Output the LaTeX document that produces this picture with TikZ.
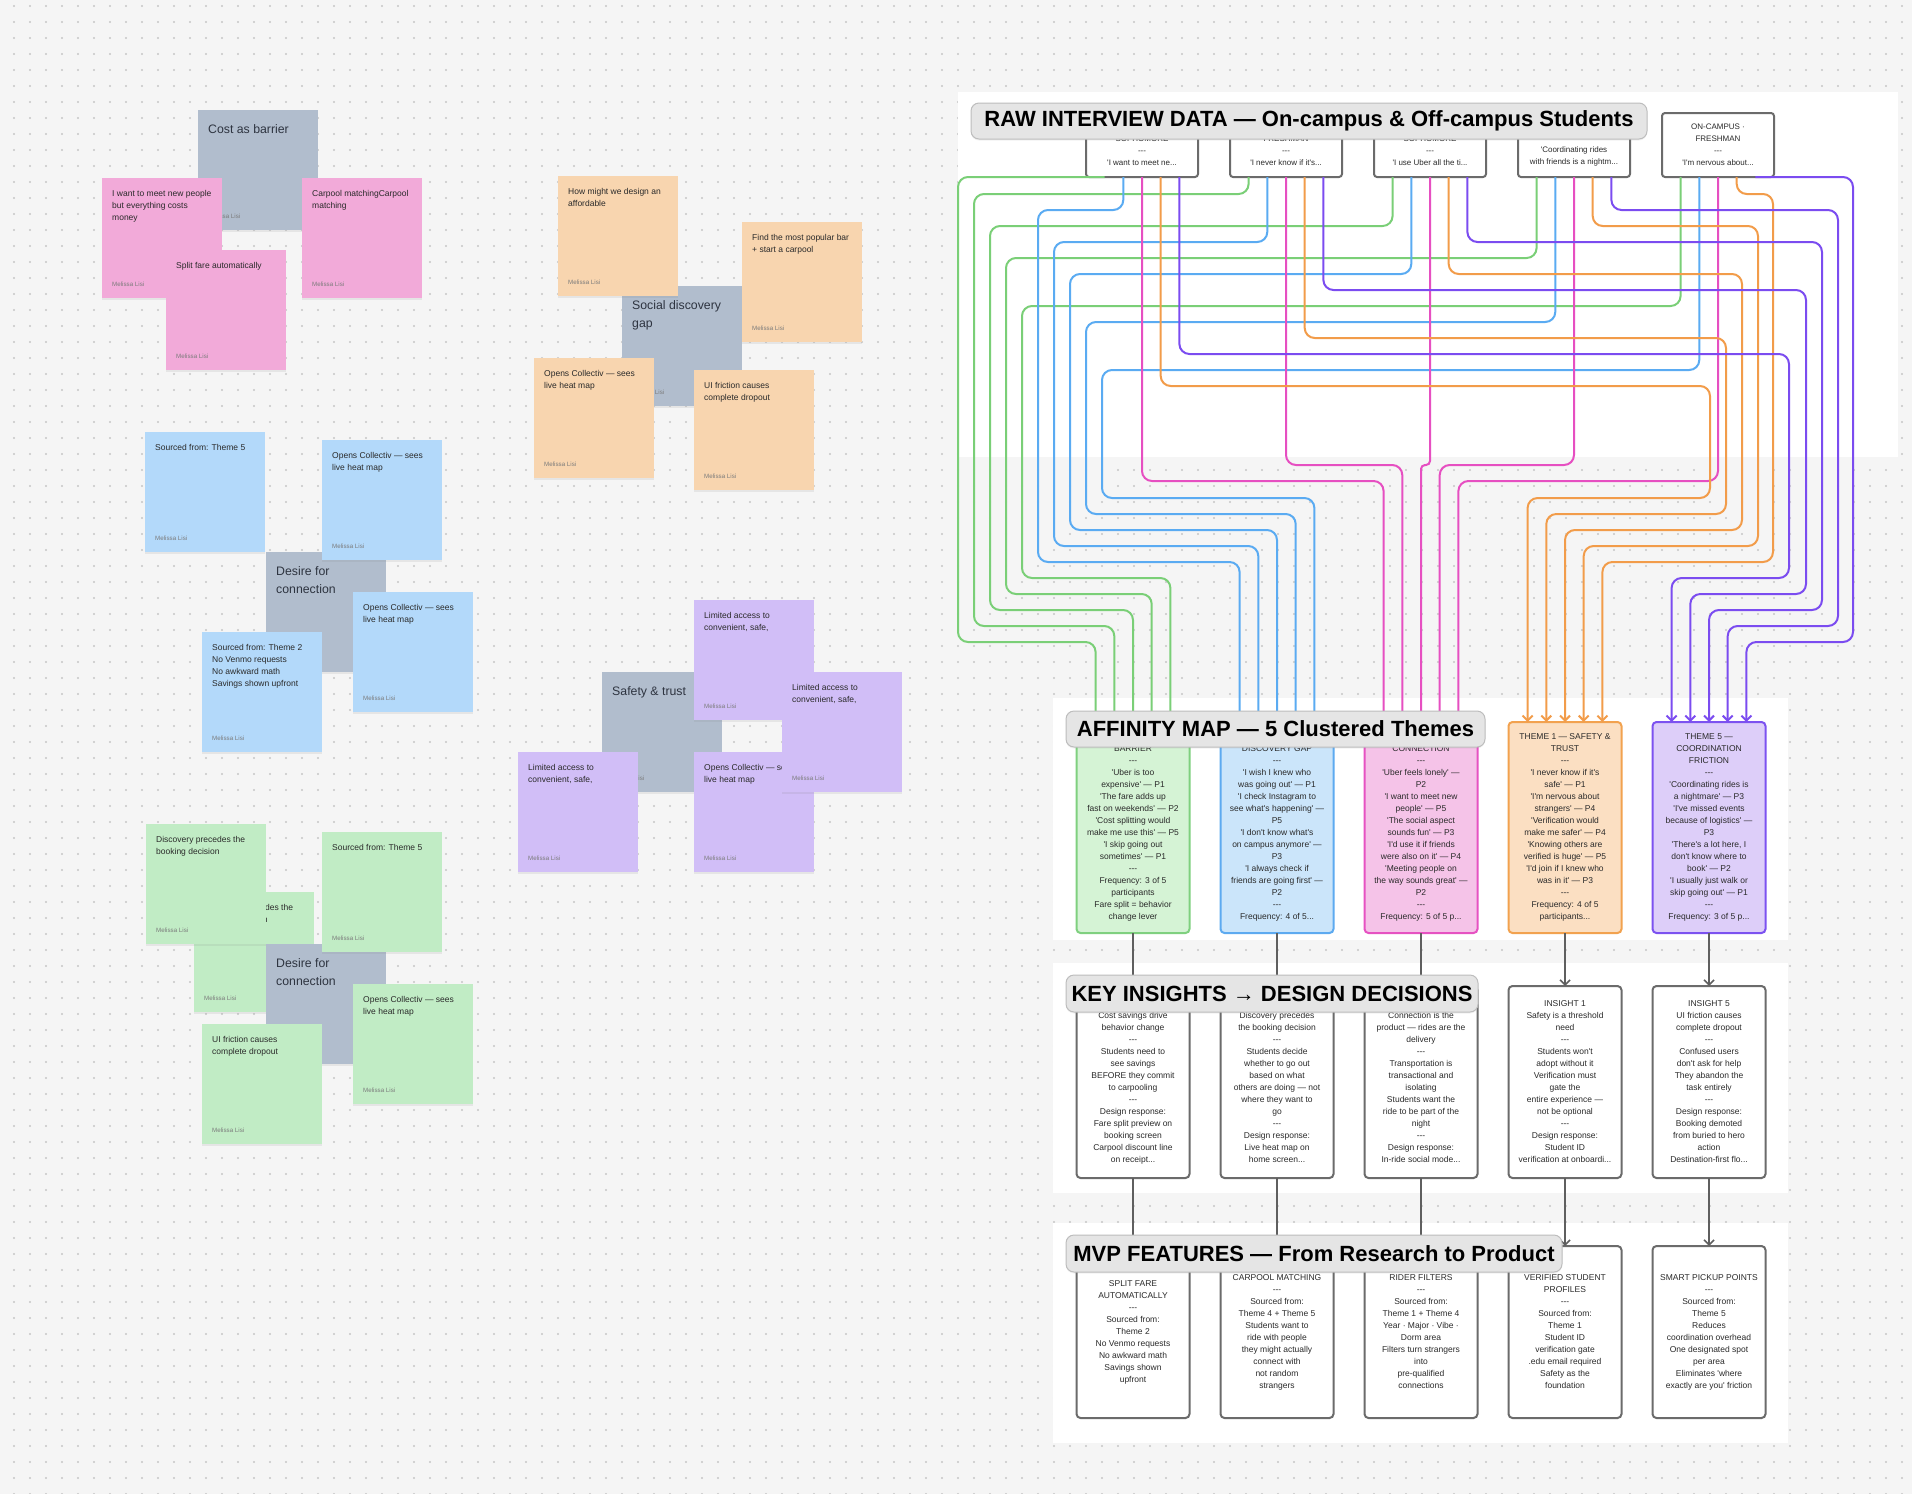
\documentclass[tikz,border=0pt]{standalone}
\usepackage{fontspec}
\setmainfont{Liberation Sans}[Ligatures=TeXOff]
\usetikzlibrary{arrows.meta,shadows}
\definecolor{bgc}{HTML}{F5F5F5}
\definecolor{dotc}{HTML}{C6C6C6}
\definecolor{spink}{HTML}{F2AAD9}
\definecolor{sgray}{HTML}{B1BDCD}
\definecolor{sorange}{HTML}{F8D5AF}
\definecolor{sblue}{HTML}{B3D9FA}
\definecolor{spurple}{HTML}{D1BEF7}
\definecolor{sgreen}{HTML}{C1ECC5}
\definecolor{tgf}{HTML}{D5F3D5}\definecolor{tgl}{HTML}{7FD07F}
\definecolor{tbf}{HTML}{CBE5FA}\definecolor{tbl}{HTML}{5DAAF0}
\definecolor{tpf}{HTML}{F5C3E8}\definecolor{tpl}{HTML}{E652C2}
\definecolor{tof}{HTML}{FBDFC2}\definecolor{tol}{HTML}{F2A24F}
\definecolor{tuf}{HTML}{DDCEF9}\definecolor{tul}{HTML}{7C52F0}
\definecolor{wgreen}{HTML}{7ACF77}
\definecolor{wblue}{HTML}{5AABF2}
\definecolor{wpink}{HTML}{E64FC1}
\definecolor{worange}{HTML}{F29C4A}
\definecolor{wpurple}{HTML}{7B4CF0}
\definecolor{boxgray}{HTML}{6B6B6B}
\definecolor{conngray}{HTML}{5F5F5F}
\definecolor{pillfill}{HTML}{E5E5E5}
\definecolor{pillline}{HTML}{BDBDBD}
\definecolor{txtdark}{HTML}{2A2A2A}
\definecolor{authgray}{HTML}{7B7B7B}
\definecolor{gtitle}{HTML}{2E3440}

\newcommand\stk[5]{%
  \node[sticky,fill=#4] (#1) at ({#2+60},{#3+60}) {};
  \node[stext] (#1t) at ({#2+10},{#3+12.5}) {#5};
  \node[author] (#1a) at ({#2+10},{#3+106}) {Melissa Lisi};}
\newcommand\gstk[4]{%
  \node[sticky,fill=sgray] (#1) at ({#2+60},{#3+60}) {};
  \node[gtext] (#1t) at ({#2+10},{#3+14}) {#4};
  \node[author] (#1a) at ({#2+10},{#3+106}) {Melissa Lisi};}

\begin{document}
\begin{tikzpicture}[x=1pt,y=-1pt,
  sticky/.style={minimum width=120pt,minimum height=120pt,inner sep=0pt,outer sep=0pt,
    drop shadow={opacity=0.13,shadow xshift=0pt,shadow yshift=-2pt}},
  stext/.style={inner sep=0pt,align=left,anchor=north west,text=txtdark,font=\fontsize{8.5}{12}\selectfont},
  gtext/.style={inner sep=0pt,align=left,anchor=north west,text=gtitle,font=\fontsize{12.3}{18}\selectfont},
  author/.style={inner sep=0pt,anchor=west,text=authgray,font=\fontsize{6.2}{7}\selectfont},
  ibox/.style={draw=boxgray,line width=2pt,rounded corners=3pt,fill=white,minimum width=112pt,
    minimum height=64pt,inner sep=1pt,outer sep=0pt,align=center,text=txtdark,font=\fontsize{8}{12}\selectfont},
  tbox/.style={line width=2pt,rounded corners=4pt,minimum width=113pt,minimum height=211pt,
    inner sep=1pt,outer sep=0pt,align=center,text=txtdark,font=\fontsize{8.5}{12}\selectfont},
  nbox/.style={draw=boxgray,line width=2pt,rounded corners=4pt,fill=white,minimum width=113pt,
    minimum height=192pt,inner sep=1pt,outer sep=0pt,align=center,text=txtdark,font=\fontsize{8.5}{12}\selectfont},
  mbox/.style={nbox,minimum height=172pt},
  wire/.style={line width=2pt,rounded corners=10pt,-{Straight Barb[length=5pt,width=10pt]}},
  conn/.style={draw=conngray,line width=1.6pt,-{Straight Barb[length=5pt,width=10pt]}},
  pill/.style={fill=pillfill,draw=pillline,line width=1pt,rounded corners=8pt,inner sep=0pt,
    text=black,font=\fontsize{22}{24}\selectfont\bfseries,
    drop shadow={opacity=0.10,shadow xshift=0pt,shadow yshift=-1.5pt}},
  dotline/.style={draw=dotc,line width=2.2pt,line cap=round,dash pattern=on 0pt off 16pt}
]
\useasboundingbox (0,0) rectangle (1912,1494);
\fill[bgc] (0,0) rectangle (1912,1494);
\foreach \r in {0,...,93}{\draw[dotline] (14,{6+16*\r}) -- (1912,{6+16*\r});}

% panels
\fill[white] (958,92) rectangle (1898,457);
\fill[white] (1053,698) rectangle (1788,940);
\fill[white] (1053,963) rectangle (1788,1193);
\fill[white] (1053,1223) rectangle (1788,1443);

% ---------- sticky clusters ----------
\gstk{g1}{198}{110}{Cost as barrier}
\stk{p1}{102}{178}{spink}{I want to meet new people\\but everything costs\\money}
\stk{p2}{302}{178}{spink}{Carpool matchingCarpool\\matching}
\stk{p3}{166}{250}{spink}{Split fare automatically}

\gstk{g2}{622}{286}{Social discovery\\gap}
\stk{o1}{558}{176}{sorange}{How might we design an\\affordable}
\stk{o2}{742}{222}{sorange}{Find the most popular bar\\+ start a carpool}
\stk{o3}{534}{358}{sorange}{Opens Collectiv — sees\\live heat map}
\stk{o4}{694}{370}{sorange}{UI friction causes\\complete dropout}

\gstk{g3}{266}{552}{Desire for\\connection}
\stk{b1}{145}{432}{sblue}{Sourced from: Theme 5}
\stk{b2}{322}{440}{sblue}{Opens Collectiv — sees\\live heat map}
\stk{b3}{202}{632}{sblue}{Sourced from: Theme 2\\No Venmo requests\\No awkward math\\Savings shown upfront}
\stk{b4}{353}{592}{sblue}{Opens Collectiv — sees\\live heat map}

\gstk{g4}{602}{672}{Safety \& trust}
\stk{u1}{694}{600}{spurple}{Limited access to\\convenient, safe,}
\stk{u2}{518}{752}{spurple}{Limited access to\\convenient, safe,}
\stk{u3}{694}{752}{spurple}{Opens Collectiv — sees\\live heat map}
\stk{u4}{782}{672}{spurple}{Limited access to\\convenient, safe,}

\stk{e0}{194}{892}{sgreen}{Discovery precedes the\\booking decision}
\stk{e1}{146}{824}{sgreen}{Discovery precedes the\\booking decision}
\gstk{g5}{266}{944}{Desire for\\connection}
\stk{e2}{322}{832}{sgreen}{Sourced from: Theme 5}
\stk{e3}{202}{1024}{sgreen}{UI friction causes\\complete dropout}
\stk{e4}{353}{984}{sgreen}{Opens Collectiv — sees\\live heat map}

% ---------- interview boxes ----------
\node[ibox] (I1) at (1142,145) {\phantom{T}\\SOPHOMORE\\---\\'I want to meet ne...};
\node[ibox] (I2) at (1286,145) {\phantom{T}\\FRESHMAN\\---\\'I never know if it's...};
\node[ibox] (I3) at (1430,145) {\phantom{T}\\SOPHOMORE\\---\\'I use Uber all the ti...};
\node[ibox] (I4) at (1574,145) {\phantom{T}\\---\\'Coordinating rides\\with friends is a nightm...};
\node[ibox] (I5) at (1718,145) {ON-CAMPUS ·\\FRESHMAN\\---\\'I'm nervous about...};

% ---------- theme boxes ----------
\node[tbox,fill=tgf,draw=tgl] (T1) at (1133,827.5) {\phantom{T}\\BARRIER\\---\\'Uber is too\\expensive' — P1\\'The fare adds up\\fast on weekends' — P2\\'Cost splitting would\\make me use this' — P5\\'I skip going out\\sometimes' — P1\\---\\Frequency: 3 of 5\\participants\\Fare split = behavior\\change lever};
\node[tbox,fill=tbf,draw=tbl] (T2) at (1277,827.5) {\phantom{T}\\DISCOVERY GAP\\---\\'I wish I knew who\\was going out' — P1\\'I check Instagram to\\see what's happening' —\\P5\\'I don't know what's\\on campus anymore' —\\P3\\'I always check if\\friends are going first' —\\P2\\---\\Frequency: 4 of 5...};
\node[tbox,fill=tpf,draw=tpl] (T3) at (1421,827.5) {\phantom{T}\\CONNECTION\\---\\'Uber feels lonely' —\\P2\\'I want to meet new\\people' — P5\\'The social aspect\\sounds fun' — P3\\'I'd use it if friends\\were also on it' — P4\\'Meeting people on\\the way sounds great' —\\P2\\---\\Frequency: 5 of 5 p...};
\node[tbox,fill=tof,draw=tol] (T4) at (1565,827.5) {THEME 1 — SAFETY \&\\TRUST\\---\\'I never know if it's\\safe' — P1\\'I'm nervous about\\strangers' — P4\\'Verification would\\make me safer' — P4\\'Knowing others are\\verified is huge' — P5\\'I'd join if I knew who\\was in it' — P3\\---\\Frequency: 4 of 5\\participants...};
\node[tbox,fill=tuf,draw=tul] (T5) at (1709,827.5) {THEME 5 —\\COORDINATION\\FRICTION\\---\\'Coordinating rides is\\a nightmare' — P3\\'I've missed events\\because of logistics' —\\P3\\'There's a lot here, I\\don't know where to\\book' — P2\\'I usually just walk or\\skip going out' — P1\\---\\Frequency: 3 of 5 p...};

% ---------- insight boxes ----------
\node[nbox] (N1) at (1133,1082) {\phantom{T}\\Cost savings drive\\behavior change\\---\\Students need to\\see savings\\BEFORE they commit\\to carpooling\\---\\Design response:\\Fare split preview on\\booking screen\\Carpool discount line\\on receipt...};
\node[nbox] (N2) at (1277,1082) {\phantom{T}\\Discovery precedes\\the booking decision\\---\\Students decide\\whether to go out\\based on what\\others are doing — not\\where they want to\\go\\---\\Design response:\\Live heat map on\\home screen...};
\node[nbox] (N3) at (1421,1082) {\phantom{T}\\Connection is the\\product — rides are the\\delivery\\---\\Transportation is\\transactional and\\isolating\\Students want the\\ride to be part of the\\night\\---\\Design response:\\In-ride social mode...};
\node[nbox] (N4) at (1565,1082) {INSIGHT 1\\Safety is a threshold\\need\\---\\Students won't\\adopt without it\\Verification must\\gate the\\entire experience —\\not be optional\\---\\Design response:\\Student ID\\verification at onboardi...};
\node[nbox] (N5) at (1709,1082) {INSIGHT 5\\UI friction causes\\complete dropout\\---\\Confused users\\don't ask for help\\They abandon the\\task entirely\\---\\Design response:\\Booking demoted\\from buried to hero\\action\\Destination-first flo...};

% ---------- MVP boxes ----------
\node[mbox] (M1) at (1133,1332) {SPLIT FARE\\AUTOMATICALLY\\---\\Sourced from:\\Theme 2\\No Venmo requests\\No awkward math\\Savings shown\\upfront};
\node[mbox] (M2) at (1277,1332) {CARPOOL MATCHING\\---\\Sourced from:\\Theme 4 + Theme 5\\Students want to\\ride with people\\they might actually\\connect with\\not random\\strangers};
\node[mbox] (M3) at (1421,1332) {RIDER FILTERS\\---\\Sourced from:\\Theme 1 + Theme 4\\Year · Major · Vibe ·\\Dorm area\\Filters turn strangers\\into\\pre-qualified\\connections};
\node[mbox] (M4) at (1565,1332) {VERIFIED STUDENT\\PROFILES\\---\\Sourced from:\\Theme 1\\Student ID\\verification gate\\.edu email required\\Safety as the\\foundation};
\node[mbox] (M5) at (1709,1332) {SMART PICKUP POINTS\\---\\Sourced from:\\Theme 5\\Reduces\\coordination overhead\\One designated spot\\per area\\Eliminates 'where\\exactly are you' friction};

% ---------- connectors theme -> insight -> MVP ----------
\foreach \j in {1,...,5}{
  \draw[conn] (T\j.south) -- (N\j.north);
  \draw[conn] (N\j.south) -- (M\j.north);
}

% ---------- wires: interview -> theme ----------
% green -> T1
\draw[wire,wgreen] ([xshift=-37.4pt]I1.south) -- (958,177) -- (958,642) -| ([xshift=-37.4pt]T1.north);
\foreach \i/\A/\L/\B in {2/194/974/626,3/226/990/610,4/258/1006/594,5/306/1022/578}{
  \pgfmathsetmacro\dx{(\i-3)*18.7}
  \draw[wire,wgreen] ([xshift=-37.4pt]I\i.south) |- (\L,\A) -- (\L,\B) -| ([xshift=\dx pt]T1.north);
}
% blue -> T2
\foreach \i/\A/\L/\B in {1/210/1038/562,2/242/1054/546,3/274/1070/530,4/322/1086/514,5/370/1102/498}{
  \pgfmathsetmacro\dx{(\i-3)*18.7}
  \draw[wire,wblue] ([xshift=-18.7pt]I\i.south) |- (\L,\A) -- (\L,\B) -| ([xshift=\dx pt]T2.north);
}
% pink -> T3
\draw[wire,wpink] (I1.south) |- (1383.6,481) -- ([xshift=-37.4pt]T3.north);
\draw[wire,wpink] (I2.south) |- (1402.3,465) -- ([xshift=-18.7pt]T3.north);
\draw[wire,wpink,rounded corners=4pt] (I3.south) |- (1421,465) -- (T3.north);
\draw[wire,wpink] (I4.south) |- (1439.7,465) -- ([xshift=18.7pt]T3.north);
\draw[wire,wpink] (I5.south) |- (1458.4,481) -- ([xshift=37.4pt]T3.north);
% orange -> T4
\foreach \i/\A/\L/\B in {1/386/1710/498,2/338/1726/514,3/274/1742/530,4/226/1758/546,5/194/1773/562}{
  \pgfmathsetmacro\dx{(\i-3)*18.7}
  \draw[wire,worange] ([xshift=18.7pt]I\i.south) |- (\L,\A) -- (\L,\B) -| ([xshift=\dx pt]T4.north);
}
% purple -> T5
\foreach \i/\A/\L/\B in {1/354/1789/578,2/290/1806/594,3/242/1822/610,4/210/1838/626}{
  \pgfmathsetmacro\dx{(\i-3)*18.7}
  \draw[wire,wpurple] ([xshift=37.4pt]I\i.south) |- (\L,\A) -- (\L,\B) -| ([xshift=\dx pt]T5.north);
}
\draw[wire,wpurple] ([xshift=37.4pt]I5.south) -- (1853,177) -- (1853,642) -| ([xshift=37.4pt]T5.north);

% ---------- section title pills ----------
\node[pill,minimum width=676pt,minimum height=36pt] (P1) at (1309,121) {RAW INTERVIEW DATA — On-campus \& Off-campus Students};
\node[pill,minimum width=419pt,minimum height=36pt] (P2) at (1275.5,729) {AFFINITY MAP — 5 Clustered Themes};
\node[pill,minimum width=412pt,minimum height=37pt] (P3) at (1272,993.5) {KEY INSIGHTS → DESIGN DECISIONS};
\node[pill,minimum width=496pt,minimum height=37pt] (P4) at (1314,1253.5) {MVP FEATURES — From Research to Product};
\end{tikzpicture}
\end{document}
